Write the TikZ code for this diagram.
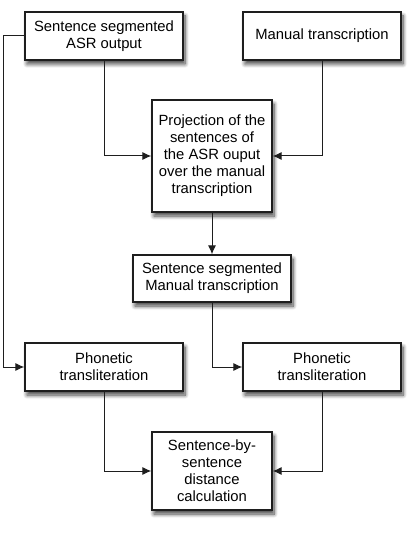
\documentclass[tikz,border=0pt]{standalone}
\usepackage{fontspec}
\setmainfont{Liberation Sans}
\usepackage{tikz}
\usetikzlibrary{
	arrows.meta, positioning, calc, shadows.blur
}
\definecolor{flowdark}      {RGB}{ 30,  30,  30}

\begin{document}
\begin{tikzpicture}[x=1pt,y=-1pt,
		procbox/.style={draw=flowdark, line width=1.3pt, fill=white, align=center,
			font=\fontsize{14.8}{17}\selectfont, inner sep=0pt,
			blur shadow={shadow xshift=2pt, shadow yshift=-4pt, shadow opacity=75,
				shadow blur radius=4pt, shadow blur steps=8}},
		widebox/.style={procbox, minimum width=158pt, minimum height=48pt},
		narrowbox/.style={procbox, minimum width=120pt},
		flow/.style={draw=flowdark, line width=1pt, -{Latex[length=9pt,width=8pt]}}
	]
				\useasboundingbox (0,0) rectangle (413,537);
				% top row
				\node[widebox] (asr) at (104,36) {Sentence segmented\\ASR output};
				\node[widebox] (manual) at (322,36) {Manual transcription};
				% projection step
				\node[narrowbox, minimum height=112pt] (proj) at (212,156)
					{Projection of the\\sentences of\\the ASR ouput\\over the manual\\transcription};
				\node[widebox, minimum height=47pt] (segman) at (212,278.5)
					{Sentence segmented\\Manual transcription};
				% transliteration
				\node[widebox] (phonl) at (104,367) {Phonetic\\transliteration};
				\node[widebox] (phonr) at (322,367) {Phonetic\\transliteration};
				\node[narrowbox, minimum height=78pt] (dist) at (212,471)
					{Sentence-by-\\sentence\\distance\\calculation};
				% connectors
				\coordinate (bypass) at (3,36);
				\draw[flow] (asr.south) |- (proj.west);
				\draw[flow] (manual.south) |- (proj.east);
				\draw[flow] (proj.south) -- (segman.north);
				\draw[flow] (asr.west) -- (bypass) |- (phonl.west);
				\draw[flow] (segman.south) |- (phonr.west);
				\draw[flow] (phonl.south) |- (dist.west);
				\draw[flow] (phonr.south) |- (dist.east);
			\end{tikzpicture}
\end{document}
